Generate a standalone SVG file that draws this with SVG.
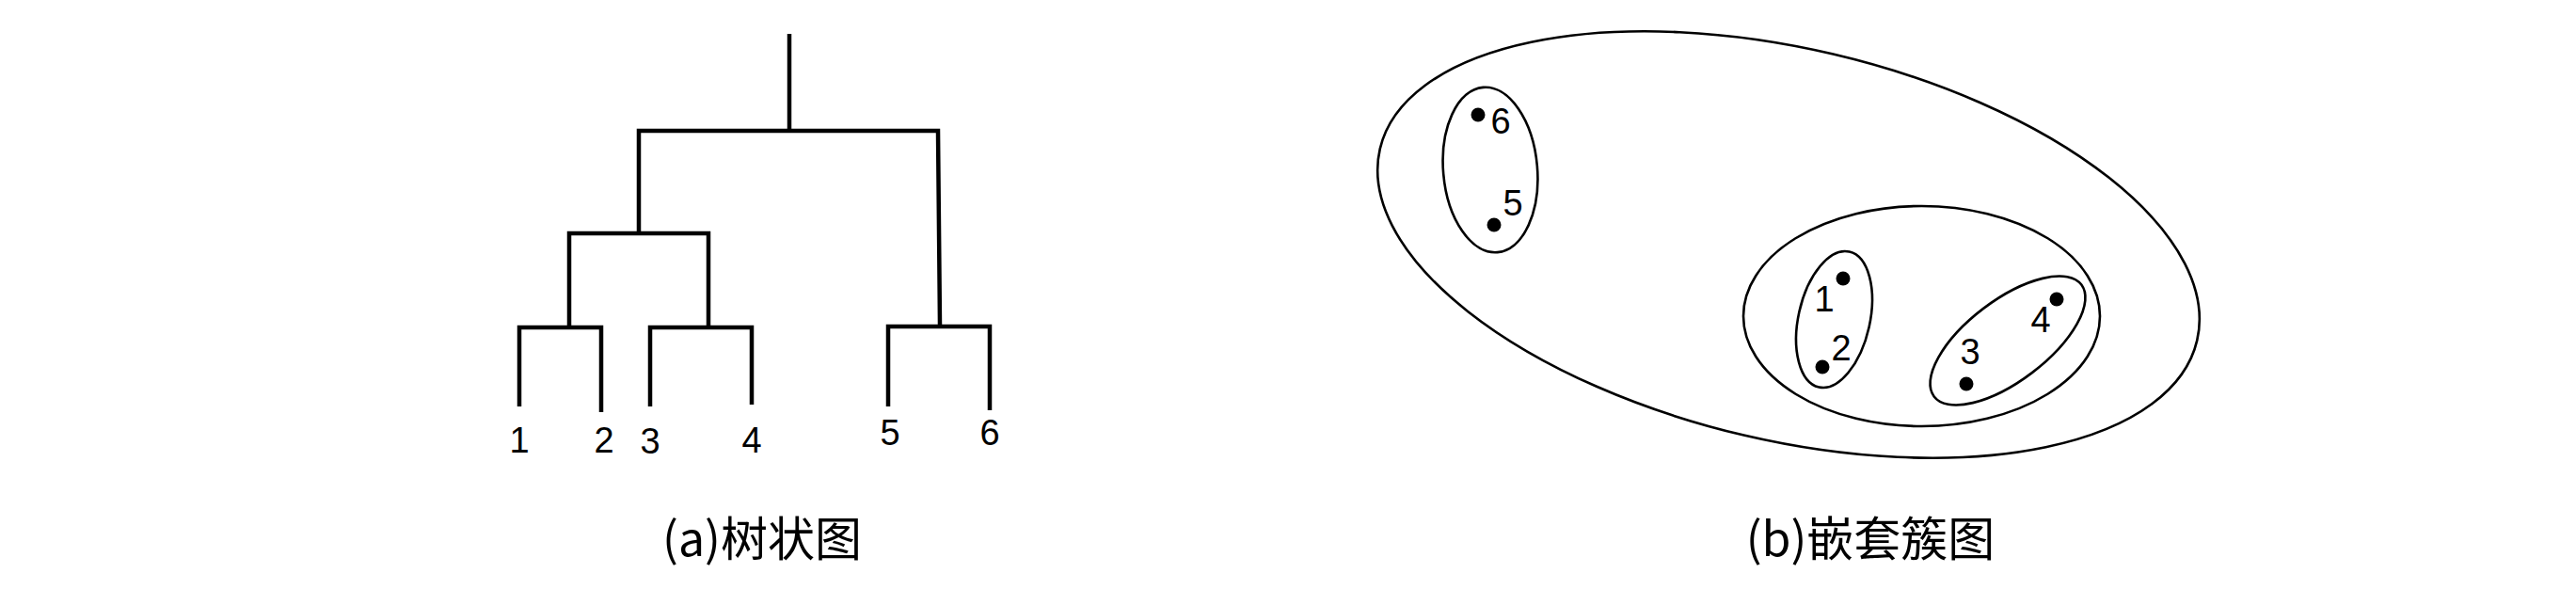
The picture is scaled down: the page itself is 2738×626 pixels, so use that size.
<svg xmlns="http://www.w3.org/2000/svg" width="2738" height="626" viewBox="0 0 2738 626">
<style>
.tree{fill:none;stroke:#000;stroke-width:4.5;stroke-linecap:butt;stroke-linejoin:miter}
.ell{fill:none;stroke:#000;stroke-width:2.6}
.dot{fill:#000}
.num{font-family:"Liberation Sans",Arial,sans-serif;font-size:38px;fill:#000;text-anchor:middle}
.cap{font-family:"Noto Sans CJK SC","Noto Sans",sans-serif;font-size:50px;fill:#000;text-anchor:middle}
</style>
<rect width="2738" height="626" fill="#fff"/>
<g id="dendrogram">
  <g id="connectors">
    <path class="tree" d="M839 36V139"/>
    <path class="tree" d="M679 247V139H997L999 345"/>
    <path class="tree" d="M605 348V248H753V346"/>
    <path class="tree" d="M552 432V348H639V438"/>
    <path class="tree" d="M691 432V348H799V430"/>
    <path class="tree" d="M944 432V347H1052V436"/>
  </g>
  <g id="leaf1"><text class="num" x="552" y="481">1</text></g>
  <g id="leaf2"><text class="num" x="642" y="481">2</text></g>
  <g id="leaf3"><text class="num" x="691" y="482">3</text></g>
  <g id="leaf4"><text class="num" x="799" y="481">4</text></g>
  <g id="leaf5"><text class="num" x="946" y="473">5</text></g>
  <g id="leaf6"><text class="num" x="1052" y="473">6</text></g>
  <text class="cap" x="810" y="591">(a)树状图</text>
</g>
<g id="nested">
  <g id="cluster-all"><ellipse class="ell" cx="1901" cy="260" rx="446" ry="208" transform="rotate(13.2 1901 260)"/></g>
  <g id="cluster-56"><ellipse class="ell" cx="1584" cy="180.5" rx="50" ry="88" transform="rotate(-5 1584 180.5)"/></g>
  <g id="cluster-1234"><ellipse class="ell" cx="2042.5" cy="336" rx="189.5" ry="117"/></g>
  <g id="cluster-12"><ellipse class="ell" cx="1949.5" cy="339.5" rx="38" ry="73.8" transform="rotate(12.6 1949.5 339.5)"/></g>
  <g id="cluster-34"><ellipse class="ell" cx="2134" cy="362" rx="98.3" ry="42.8" transform="rotate(-37.2 2134 362)"/></g>
  <g id="point6"><circle class="dot" cx="1571" cy="122" r="7.5"/><text class="num" x="1595" y="142">6</text></g>
  <g id="point5"><circle class="dot" cx="1588" cy="239" r="7.5"/><text class="num" x="1608" y="229">5</text></g>
  <g id="point1"><circle class="dot" cx="1959" cy="296" r="7.5"/><text class="num" x="1939" y="331">1</text></g>
  <g id="point2"><circle class="dot" cx="1937" cy="390" r="7.5"/><text class="num" x="1957" y="383">2</text></g>
  <g id="point3"><circle class="dot" cx="2090" cy="408" r="7.5"/><text class="num" x="2094" y="387">3</text></g>
  <g id="point4"><circle class="dot" cx="2186" cy="318" r="7.5"/><text class="num" x="2169" y="353">4</text></g>
  <text class="cap" x="1988" y="591">(b)嵌套簇图</text>
</g>
</svg>
